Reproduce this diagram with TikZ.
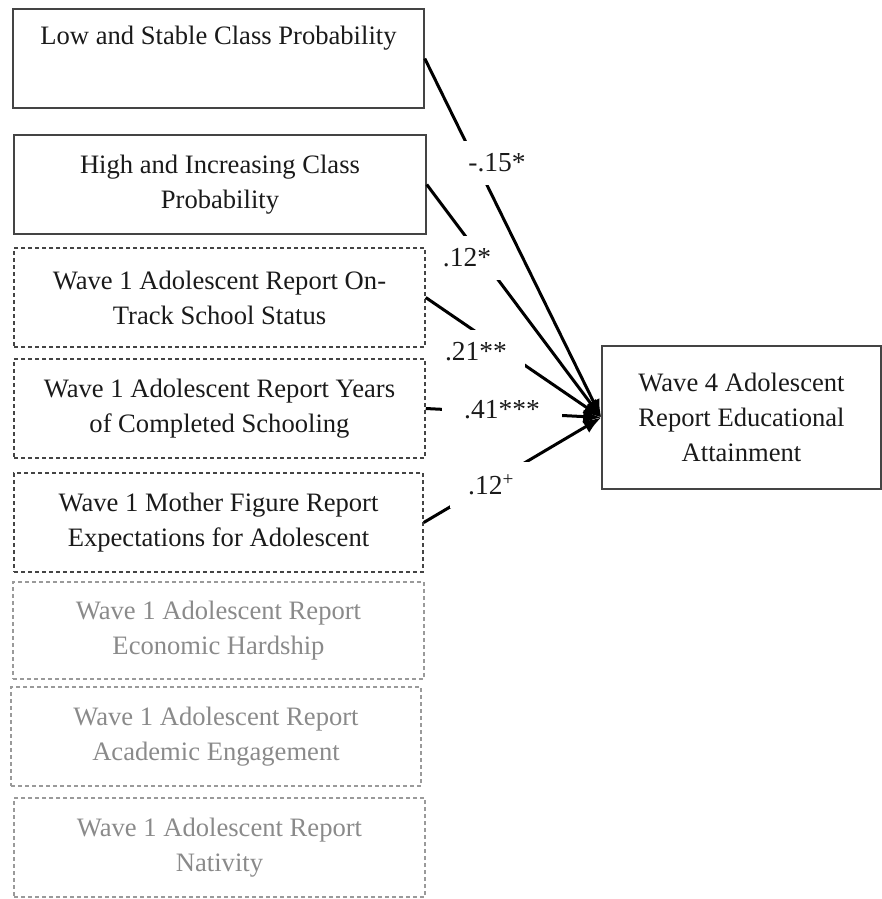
\documentclass[tikz,border=0pt]{standalone}
\usepackage{fontspec}
\setmainfont{Liberation Serif}
\usetikzlibrary{arrows.meta}
\definecolor{boxgray}{HTML}{444444}
\definecolor{lightline}{HTML}{9A9A9A}
\definecolor{lighttext}{HTML}{8A8A8A}
\definecolor{maintext}{HTML}{1A1A1A}
\begin{document}
\begin{tikzpicture}[x=1pt,y=-1pt,
  every node/.style={font=\fontsize{26.6pt}{35pt}\selectfont, text=maintext},
  solidbox/.style={draw=boxgray, line width=1.5pt, minimum width=411pt, minimum height=99pt, align=center, inner sep=0pt},
  dashbox/.style={solidbox, dash pattern=on 4pt off 3pt},
  graybox/.style={dashbox, draw=lightline, text=lighttext},
  pathline/.style={line width=3pt, -{Latex[length=18pt,width=14pt]}},
  coef/.style={fill=white, inner xsep=18pt, inner ysep=13pt, font=\fontsize{27.5pt}{35pt}\selectfont}]
\useasboundingbox (0,0) rectangle (882,899);

\node[solidbox] (b1) at (218.5,58.5) {Low and Stable Class Probability\\\strut};
\node[solidbox, minimum width=412pt] (b2) at (220,184.5) {High and Increasing Class\\Probability};
\node[dashbox] (b3) at (219.5,297.5) {Wave 1 Adolescent Report On-\\Track School Status};
\node[dashbox] (b4) at (219.5,408.5) {Wave 1 Adolescent Report Years\\of Completed Schooling};
\node[dashbox, minimum width=409pt] (b5) at (218.5,522.5) {Wave 1 Mother Figure Report\\Expectations for Adolescent};
\node[graybox, minimum height=97pt] (b6) at (218.5,630.5) {Wave 1 Adolescent Report\\Economic Hardship};
\node[graybox, minimum width=410pt] (b7) at (216,736.5) {Wave 1 Adolescent Report\\Academic Engagement};
\node[graybox] (b8) at (219.5,847.5) {Wave 1 Adolescent Report\\Nativity};

\node[solidbox, minimum width=279pt, minimum height=143pt] (w4) at (741.5,417.5) {Wave 4 Adolescent\\Report Educational\\Attainment};

\draw[pathline] (b1.east) -- (w4.west);
\draw[pathline] (b2.east) -- (w4.west);
\draw[pathline] (b3.east) -- (w4.west);
\draw[pathline] (b4.east) -- (w4.west);
\draw[pathline] (b5.east) -- (w4.west);

\node[coef] (l1) at (497,163) {-.15*};
\node[coef, inner xsep=13pt] (l2) at (467,258) {.12*};
\node[coef] (l3) at (476,352) {.21**};
\node[coef, inner xsep=22pt, inner ysep=5pt] (l4) at (502,410) {.41***};
\node[coef] (l5) at (491,485) {.12\textsuperscript{+}};
\end{tikzpicture}
\end{document}
